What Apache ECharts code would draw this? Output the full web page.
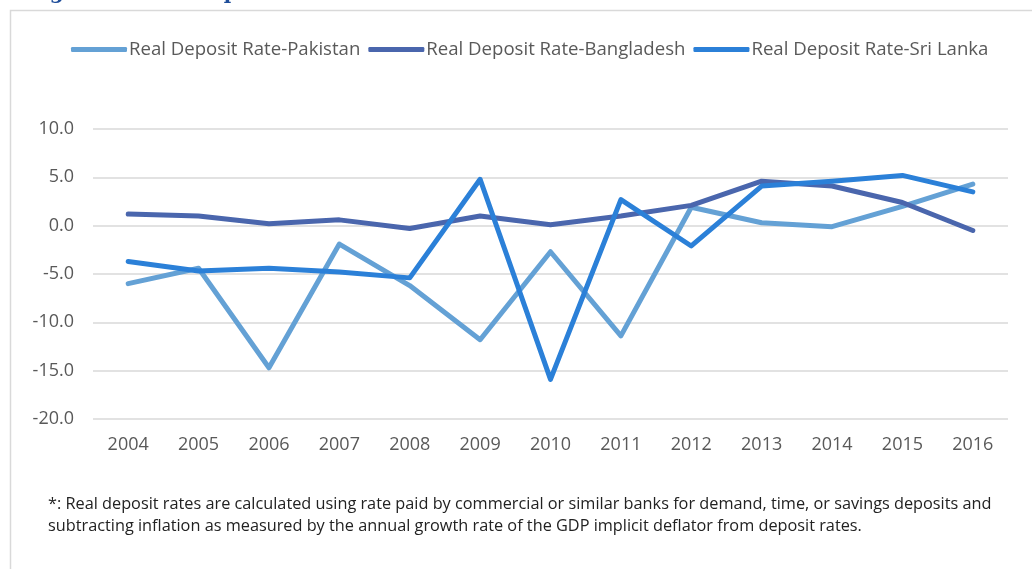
<!DOCTYPE html>
<html>
<head>
<meta charset="utf-8">
<style>
  html, body { margin: 0; padding: 0; background: #fff; }
  #chart { width: 1032px; height: 569px; }
</style>
<script src="https://cdn.jsdelivr.net/npm/echarts@6/dist/echarts.min.js"></script>
</head>
<body>
<div id="chart"></div>
<script>
// 年份
const years = ['2004', '2005', '2006', '2007', '2008', '2009', '2010', '2011', '2012', '2013', '2014', '2015', '2016']

// 实际存款利率
const pakistan = [-6.0, -4.4, -14.7, -1.9, -6.2, -11.8, -2.7, -11.4, 1.9, 0.3, -0.1, 2.0, 4.3]
const bangladesh = [1.2, 1.0, 0.2, 0.6, -0.3, 1.0, 0.1, 1.0, 2.1, 4.6, 4.1, 2.4, -0.5]
const sriLanka = [-3.7, -4.7, -4.4, -4.8, -5.4, 4.8, -15.9, 2.7, -2.1, 4.1, 4.6, 5.2, 3.5]

const footnote = [
    '*: Real deposit rates are calculated using rate paid by commercial or similar banks for demand, time, or savings deposits and',
    'subtracting inflation as measured by the annual growth rate of the GDP implicit deflator from deposit rates.'
]

const font = "'Open Sans', 'Noto Sans', sans-serif"

const makeLine = (name, data, color) => ({
    name,
    type: 'line',
    data,
    symbol: 'none',
    lineStyle: { width: 5, color, cap: 'round', join: 'round' },
    itemStyle: { color }
})

const chart = echarts.init(document.getElementById('chart'), null, { renderer: 'canvas' })

chart.setOption({
    animation: false,
    backgroundColor: '#fff',
    legend: {
        top: 35,
        left: 66,
        itemWidth: 56,
        itemHeight: 5,
        itemGap: 8,
        icon: 'roundRect',
        textStyle: { fontFamily: font, fontSize: 18.6, color: '#595959', padding: [0, 0, 0, -3] },
        data: ['Real Deposit Rate-Pakistan', 'Real Deposit Rate-Bangladesh', 'Real Deposit Rate-Sri Lanka']
    },
    grid: { left: 93, right: 24, top: 129, bottom: 150, containLabel: false },
    xAxis: {
        type: 'category',
        data: years,
        boundaryGap: true,
        axisLine: { show: false },
        axisTick: { show: false },
        axisLabel: { fontFamily: font, fontSize: 18, color: '#595959', margin: 17 }
    },
    yAxis: {
        type: 'value',
        min: -20,
        max: 10,
        interval: 5,
        axisLine: { show: false },
        axisTick: { show: false },
        splitLine: { lineStyle: { color: '#d9d9d9', width: 1.5 } },
        axisLabel: {
            fontFamily: font, fontSize: 18, color: '#595959', margin: 19,
            formatter: v => v.toFixed(1)
        }
    },
    graphic: [
        {
            type: 'polyline',
            shape: { points: [[10.5, 569], [10.5, 10.5], [1032, 10.5]] },
            style: { stroke: '#d9d9d9', lineWidth: 1.5, fill: null },
            silent: true
        },
        {
            type: 'text',
            left: 28,
            top: -16,
            style: {
                text: 'Figure 6: Real Deposit Rate in South Asia',
                font: "bold 20px 'DejaVu Serif', serif",
                fill: '#1f4e9a'
            },
            silent: true
        },
        {
            type: 'text',
            left: 48,
            top: 493,
            style: {
                text: footnote.join('\n'),
                font: "16.3px 'Open Sans', sans-serif",
                lineHeight: 22,
                fill: '#222'
            },
            silent: true
        }
    ],
    series: [
        makeLine('Real Deposit Rate-Pakistan', pakistan, '#64a1d5'),
        makeLine('Real Deposit Rate-Bangladesh', bangladesh, '#4a66ad'),
        makeLine('Real Deposit Rate-Sri Lanka', sriLanka, '#2b80d8')
    ]
})
</script>
</body>
</html>
